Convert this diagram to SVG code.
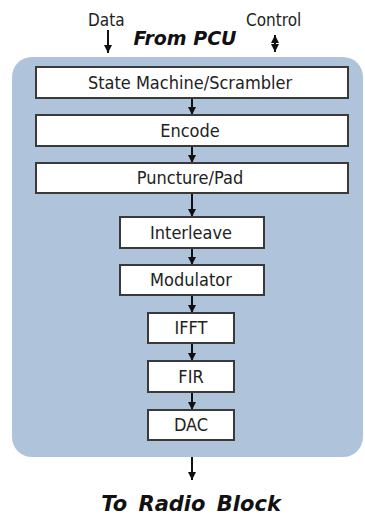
<svg xmlns="http://www.w3.org/2000/svg" width="365" height="516" viewBox="0 0 365 516">
<defs>
<marker id="ah" viewBox="0 0 10 10" refX="10" refY="5" markerWidth="4" markerHeight="4" orient="auto-start-reverse" markerUnits="strokeWidth">
<path d="M0,0 L10,5 L0,10 z" fill="#111"/>
</marker>
</defs>
<style>
.box{fill:#fff;stroke:#3a3a3a;stroke-width:2}
.lbl{font-family:"DejaVu Sans Condensed","DejaVu Sans",sans-serif;font-size:18px;fill:#222;text-anchor:middle}
.ttl{font-family:"DejaVu Sans","Verdana",sans-serif;font-weight:bold;font-style:italic;fill:#111}
.sm{font-family:"DejaVu Sans Condensed","DejaVu Sans",sans-serif;font-size:17px;fill:#222}
.con{stroke:#111;stroke-width:2;fill:none;marker-end:url(#ah)}
</style>
<rect x="0" y="0" width="365" height="516" fill="#fff"/>
<rect id="panel" x="12" y="57" width="351" height="400" rx="20" ry="20" fill="#afc3db"/>
<text class="sm" x="88" y="26">Data</text>
<text class="sm" x="246" y="26">Control</text>
<text class="ttl" x="185" y="45" font-size="19" text-anchor="middle">From PCU</text>
<text class="ttl" x="191" y="511" font-size="21" text-anchor="middle" word-spacing="4">To Radio Block</text>
<g id="connectors">
<line class="con" x1="108" y1="30" x2="108" y2="53"/>
<line class="con" x1="275" y1="35" x2="275" y2="52" style="marker-start:url(#ah)"/>
<line class="con" x1="192" y1="98" x2="192" y2="115"/>
<line class="con" x1="192" y1="146" x2="192" y2="163"/>
<line class="con" x1="192" y1="193" x2="192" y2="217"/>
<line class="con" x1="192" y1="248" x2="192" y2="265"/>
<line class="con" x1="192" y1="295" x2="192" y2="313"/>
<line class="con" x1="192" y1="343" x2="192" y2="361"/>
<line class="con" x1="192" y1="392" x2="192" y2="410"/>
<line class="con" x1="192" y1="457" x2="192" y2="480"/>
</g>
<g id="n1"><rect class="box" x="36" y="67" width="312" height="31"/><text class="lbl" x="190" y="89">State Machine/Scrambler</text></g>
<g id="n2"><rect class="box" x="36" y="115" width="312" height="31"/><text class="lbl" x="190" y="137">Encode</text></g>
<g id="n3"><rect class="box" x="36" y="163" width="312" height="30"/><text class="lbl" x="190" y="184">Puncture/Pad</text></g>
<g id="n4"><rect class="box" x="120" y="217" width="144" height="31"/><text class="lbl" x="191" y="239">Interleave</text></g>
<g id="n5"><rect class="box" x="120" y="265" width="144" height="30"/><text class="lbl" x="191" y="286">Modulator</text></g>
<g id="n6"><rect class="box" x="148" y="313" width="86" height="30"/><text class="lbl" x="191" y="334">IFFT</text></g>
<g id="n7"><rect class="box" x="148" y="361" width="86" height="31"/><text class="lbl" x="191" y="383">FIR</text></g>
<g id="n8"><rect class="box" x="148" y="410" width="86" height="30"/><text class="lbl" x="191" y="431">DAC</text></g>
</svg>
